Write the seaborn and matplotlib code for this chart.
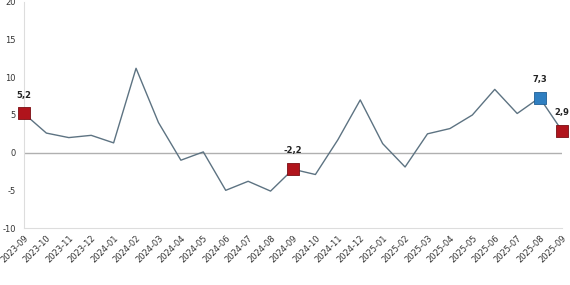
import matplotlib.pyplot as plt
import pandas as pd
import seaborn as sns

months = [
    "2023-09", "2023-10", "2023-11", "2023-12", "2024-01", "2024-02", "2024-03",
    "2024-04", "2024-05", "2024-06", "2024-07", "2024-08", "2024-09", "2024-10",
    "2024-11", "2024-12", "2025-01", "2025-02", "2025-03", "2025-04", "2025-05",
    "2025-06", "2025-07", "2025-08", "2025-09",
]
values = [
    5.2, 2.6, 2.0, 2.3, 1.3, 11.2, 4.0, -1.0, 0.1, -5.0, -3.8, -5.1, -2.2, -2.9,
    1.7, 7.0, 1.2, -1.9, 2.5, 3.2, 5.0, 8.4, 5.2, 7.3, 2.9,
]
red_months = ["2023-09", "2024-09", "2025-09"]
blue_months = ["2025-08"]
y_ticks = [-10, -5, 0, 5, 10, 15, 20]

df = pd.DataFrame({"month": months, "value": values})
df["pos"] = range(len(df))

sns.set_style("white")
plt.rcParams["font.family"] = ["DejaVu Sans"]
plt.rcParams["axes.unicode_minus"] = False

fig = plt.figure(figsize=(5.7, 2.85), dpi=100)
ax = fig.add_axes([0.042, 0.2, 0.944, 0.793])

ax.axhline(0, color="#b0b0b0", lw=1.0, zorder=1)
sns.lineplot(data=df, x="pos", y="value", color="#5d7382", lw=1.0, ax=ax, zorder=2)

for sel, face, edge in [(red_months, "#b0141c", "#7a0d12"), (blue_months, "#2f7fc1", "#1f5f95")]:
    sub = df[df["month"].isin(sel)]
    sns.scatterplot(data=sub, x="pos", y="value", marker="s", s=75, color=face,
                    edgecolor=edge, linewidth=0.6, ax=ax, zorder=3, clip_on=False)
    for _, r in sub.iterrows():
        ax.annotate(f"{r['value']:.1f}".replace(".", ","), (r["pos"], r["value"]),
                    xytext=(0, 10), textcoords="offset points", ha="center",
                    va="bottom", fontsize=6, fontweight="bold", color="#222222")

ax.set_xlim(0, len(df) - 1)
ax.set_ylim(-10, 20)
ax.set_yticks(y_ticks)
ax.set_xticks(df["pos"])
ax.set_xticklabels(df["month"], rotation=45, ha="right", rotation_mode="anchor")
ax.tick_params(axis="both", length=0, labelsize=6, colors="#333333")
ax.tick_params(axis="y", pad=6)
ax.tick_params(axis="x", pad=4)
ax.set_xlabel("")
ax.set_ylabel("")

for side in ["top", "right"]:
    ax.spines[side].set_visible(False)
ax.spines["left"].set_color("#dddddd")
ax.spines["bottom"].set_color("#dddddd")
ax.spines["left"].set_linewidth(0.8)
ax.spines["bottom"].set_linewidth(0.8)

fig.savefig("out.png", dpi=100)
